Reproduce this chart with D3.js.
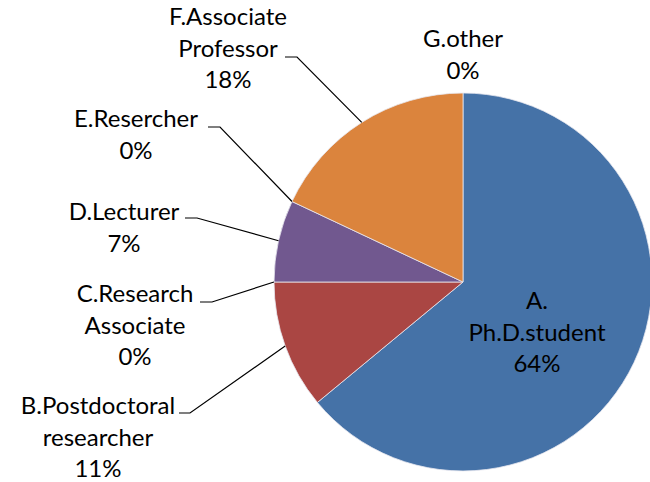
<!DOCTYPE html>
<html>
<head>
<meta charset="utf-8">
<script src="https://cdn.jsdelivr.net/npm/d3@7"></script>
<style>
  body { margin:0; background:#fff; }
  .lbl { font-family: Lato, "Open Sans", sans-serif; font-size:24px; fill:#000; text-anchor:middle; }
  .leader { fill:none; stroke:#000; stroke-width:1.2; }
</style>
</head>
<body>
<svg id="svg-pie" width="650" height="482"></svg>
<script>
// Data
var categories = ["A.|Ph.D.student", "B.Postdoctoral|researcher", "C.Research|Associate", "D.Lecturer", "E.Resercher", "F.Associate|Professor", "G.other"];
var percents = [64, 11, 0, 7, 0, 18, 0];
var colors = ["#4572a7", "#aa4643", "#89a54e", "#71588f", "#4198af", "#db843d", "#93a9cf"];

// Layout
var w_svg = 650, h_svg = 482;
var pie_c = { x:463, y:282, r:189 };
var line_h = 31.5;
// label position per slice: centre x, first baseline, leader start/elbow (null = no leader)
var lbl_pos = [
  { x:537, y:309, lead:null },
  { x:98,  y:414, lead:{ x0:179, x1:190, y:413 } },
  { x:135, y:302, lead:{ x0:200, x1:212, y:302 } },
  { x:124, y:220, lead:{ x0:185, x1:197, y:218 } },
  { x:136, y:127, lead:{ x0:208, x1:220, y:127 } },
  { x:228, y:25,  lead:{ x0:285, x1:297, y:57 } },
  { x:463, y:47,  lead:null }
];

var svg = d3.select("#svg-pie");

var pie = d3.pie().sort(null).value(function(d) { return d; })
            .startAngle(0).endAngle(2*Math.PI);
var arcs = pie(percents);
var arc = d3.arc().innerRadius(0).outerRadius(pie_c.r);

var g = svg.append("g")
           .attr("transform", "translate(" + pie_c.x + "," + pie_c.y + ")");

g.selectAll("path.slice")
 .data(arcs)
 .enter()
 .append("path")
 .attr("class", "slice")
 .attr("d", arc)
 .style("fill", function(d,i) { return colors[i]; })
 .style("stroke", "#e8e8f0")
 .style("stroke-width", function(d) { return d.value > 0 ? 0.8 : 0; });

// leader lines, from label to the middle of the slice edge
var edgePoint = function(d) {
  var a = (d.startAngle + d.endAngle)/2;
  return [pie_c.x + Math.sin(a)*pie_c.r, pie_c.y - Math.cos(a)*pie_c.r];
}
svg.selectAll("leader")
   .data(arcs.filter(function(d,i) { return lbl_pos[i].lead != null; }))
   .enter()
   .append("polyline")
   .attr("class", "leader")
   .attr("points", function(d) {
     var l = lbl_pos[d.index].lead;
     var p = edgePoint(d);
     return [[l.x0, l.y], [l.x1, l.y], p].map(function(q) { return q.join(","); }).join(" ");
   });

// labels
var labels = svg.selectAll("lbl")
                .data(arcs)
                .enter()
                .append("text")
                .attr("class", "lbl")
                .attr("x", function(d,i) { return lbl_pos[i].x; })
                .attr("y", function(d,i) { return lbl_pos[i].y; });
labels.each(function(d,i) {
  var lines = categories[i].split("|").concat([d.value + "%"]);
  d3.select(this).selectAll("tspan")
    .data(lines)
    .enter()
    .append("tspan")
    .attr("x", lbl_pos[i].x)
    .attr("dy", function(t,j) { return j == 0 ? 0 : line_h; })
    .text(function(t) { return t; });
});
</script>
</body>
</html>
